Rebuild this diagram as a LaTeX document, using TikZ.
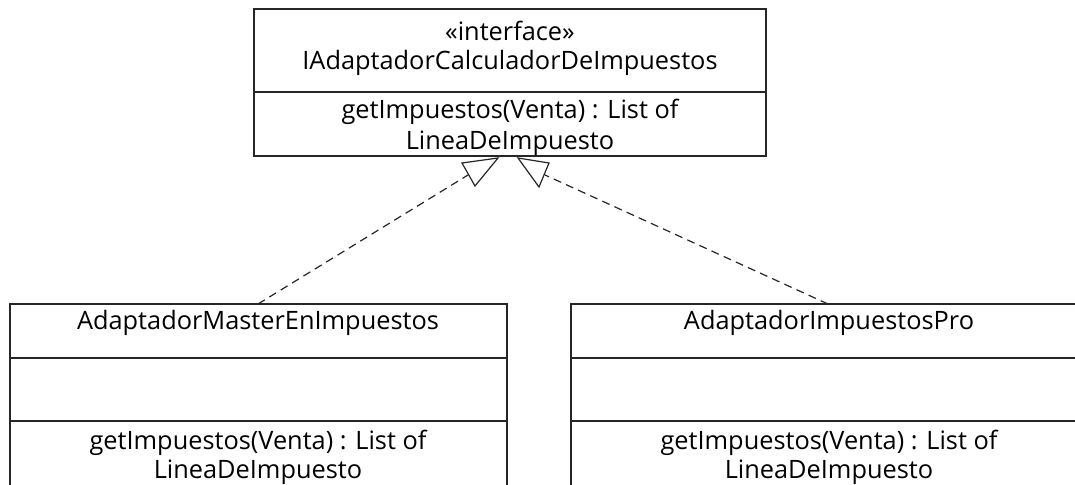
\documentclass[tikz,border=0pt]{standalone}
\usepackage{fontspec}
\setmainfont{Open Sans}
\tikzset{
  boxline/.style={draw=black!85, line width=1.2pt},
  txt/.style={font=\fontsize{19}{21}\selectfont, inner sep=0pt, anchor=center},
  realize/.style={draw=black!85, line width=0.9pt, dash pattern=on 6pt off 4pt},
  hollow/.style={draw=black!85, line width=0.9pt, fill=white, line join=miter}
}
\begin{document}
\begin{tikzpicture}[x=0.75pt,y=-0.75pt]
\useasboundingbox (0,0) rectangle (1075,485);
\clip (0,0) rectangle (1075,485);
% interface box
\draw[boxline] (254,9) rectangle (766,156);
\draw[boxline] (254,92) -- (766,92);
\node[txt] (stereo) at (510,31) {«interface»};
\node[txt] (iname) at (510,63) {IAdaptadorCalculadorDeImpuestos};
\node[txt] (iop1) at (510,112) {getImpuestos(Venta) : List of};
\node[txt] (iop2) at (510,143) {LineaDeImpuesto};
% left class
\draw[boxline] (10,304) rectangle (507,495);
\draw[boxline] (10,358) -- (507,358);
\draw[boxline] (10,421) -- (507,421);
\node[txt] (lname) at (258,323) {AdaptadorMasterEnImpuestos};
\node[txt] (lop1) at (258,443) {getImpuestos(Venta) : List of};
\node[txt] (lop2) at (258,472) {LineaDeImpuesto};
% right class
\draw[boxline] (571,304) rectangle (1090,495);
\draw[boxline] (571,358) -- (1090,358);
\draw[boxline] (571,421) -- (1090,421);
\node[txt] (rname) at (829,323) {AdaptadorImpuestosPro};
\node[txt] (rop1) at (829,443) {getImpuestos(Venta) : List of};
\node[txt] (rop2) at (829,472) {LineaDeImpuesto};
% connector end points
\coordinate (ltop) at (258,304);
\coordinate (rtop) at (828,304);
\coordinate (lhead) at (468,175);
\coordinate (rhead) at (545,175);
% realizations
\draw[realize] (ltop) -- (lhead);
\draw[realize] (rtop) -- (rhead);
\draw[hollow] (462,163) -- (498,158) -- (475,186) -- cycle;
\draw[hollow] (518,158) -- (549,163) -- (539,187) -- cycle;
\end{tikzpicture}
\end{document}
